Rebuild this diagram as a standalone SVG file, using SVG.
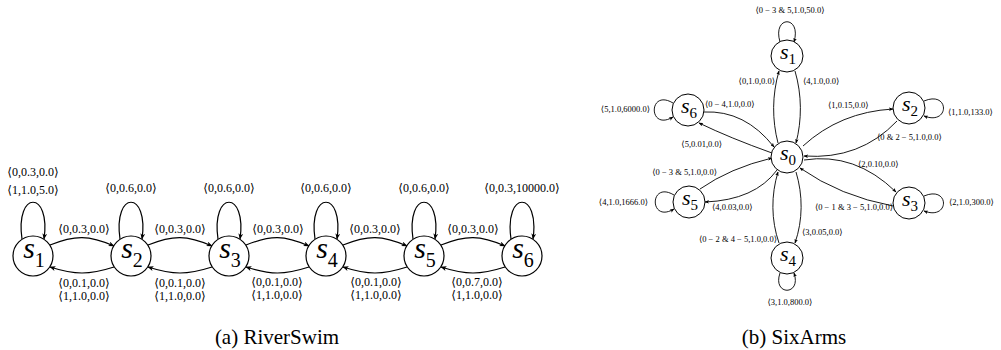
<svg xmlns="http://www.w3.org/2000/svg" width="1001" height="350" viewBox="0 0 1001 350">
<style>
  .bg{fill:#fff}
  .node{fill:#fff;stroke:#000;stroke-width:1.2}
  .snode{fill:#fff;stroke:#000;stroke-width:1}
  .edge{fill:none;stroke:#000;stroke-width:1.2}
  .sedge{fill:none;stroke:#000;stroke-width:0.9}
  .nl{font-size:30px;font-style:italic}
  .snl{font-size:22px;font-style:italic}
  .sub{font-style:normal}
  .lbl{font-size:12px;text-anchor:middle}
  .sl{font-size:8.5px}
  .cap{font-size:21px;text-anchor:middle}
</style>
<defs>
  <marker id="arr" viewBox="0 0 10 8" refX="9" refY="4" markerWidth="6" markerHeight="4.8" markerUnits="userSpaceOnUse" orient="auto">
    <path d="M0,0 L10,4 L0,8 L2.5,4 z" fill="#000"/>
  </marker>
  <marker id="sarr" viewBox="0 0 10 8" refX="9" refY="4" markerWidth="4.5" markerHeight="3.6" markerUnits="userSpaceOnUse" orient="auto">
    <path d="M0,0 L10,4 L0,8 L2.5,4 z" fill="#000"/>
  </marker>
</defs>
<rect class="bg" x="0" y="0" width="1001" height="350"/>

<g font-family="Liberation Serif, Times New Roman, Times, DejaVu Serif, serif" fill="#000">
<g id="connectors">
  <g id="riverswim-edges" marker-end="url(#arr)">
    <path class="edge" d="M 50,245 C 75,235 89,235 114,246"/>
    <path class="edge" d="M 148,245 C 173,235 187,235 212,246"/>
    <path class="edge" d="M 246,245 C 271,235 284,235 309,246"/>
    <path class="edge" d="M 343,245 C 368,235 382,235 407,246"/>
    <path class="edge" d="M 441,245 C 466,235 480,235 505,246"/>
    <path class="edge" d="M 114,267 C 89,275 75,275 50,267"/>
    <path class="edge" d="M 212,267 C 187,275 173,275 148,267"/>
    <path class="edge" d="M 309,267 C 284,275 271,275 246,267"/>
    <path class="edge" d="M 407,267 C 382,275 368,275 343,267"/>
    <path class="edge" d="M 505,267 C 480,275 466,275 441,267"/>
    <path class="edge" d="M 22,239 C 15,190 51,190 44,239"/>
    <path class="edge" d="M 120,239 C 113,190 149,190 142,239"/>
    <path class="edge" d="M 218,239 C 211,190 247,190 240,239"/>
    <path class="edge" d="M 315,239 C 308,190 344,190 337,239"/>
    <path class="edge" d="M 413,239 C 406,190 442,190 435,239"/>
    <path class="edge" d="M 511,239 C 504,190 540,190 533,239"/>
  </g>
  <g id="riverswim-labels">
    <text class="lbl" x="33" y="176">⟨0,0.3,0.0⟩</text>
    <text class="lbl" x="33" y="194">⟨1,1.0,5.0⟩</text>
    <text class="lbl" x="131" y="192">⟨0,0.6,0.0⟩</text>
    <text class="lbl" x="229" y="192">⟨0,0.6,0.0⟩</text>
    <text class="lbl" x="326" y="192">⟨0,0.6,0.0⟩</text>
    <text class="lbl" x="424" y="192">⟨0,0.6,0.0⟩</text>
    <text class="lbl" x="522" y="192">⟨0,0.3,10000.0⟩</text>
    <text class="lbl" x="84" y="233">⟨0,0.3,0.0⟩</text>
    <text class="lbl" x="180" y="233">⟨0,0.3,0.0⟩</text>
    <text class="lbl" x="278" y="233">⟨0,0.3,0.0⟩</text>
    <text class="lbl" x="375" y="233">⟨0,0.3,0.0⟩</text>
    <text class="lbl" x="473" y="233">⟨0,0.3,0.0⟩</text>
    <text class="lbl" x="84" y="287">⟨0,0.1,0.0⟩</text>
    <text class="lbl" x="84" y="300">⟨1,1.0,0.0⟩</text>
    <text class="lbl" x="180" y="287">⟨0,0.1,0.0⟩</text>
    <text class="lbl" x="180" y="300">⟨1,1.0,0.0⟩</text>
    <text class="lbl" x="277" y="286">⟨0,0.1,0.0⟩</text>
    <text class="lbl" x="277" y="299">⟨1,1.0,0.0⟩</text>
    <text class="lbl" x="376" y="286">⟨0,0.1,0.0⟩</text>
    <text class="lbl" x="376" y="299">⟨1,1.0,0.0⟩</text>
    <text class="lbl" x="477" y="286">⟨0,0.7,0.0⟩</text>
    <text class="lbl" x="477" y="299">⟨1,1.0,0.0⟩</text>
  </g>

  <g id="sixarms-edges" marker-end="url(#sarr)">
    <path class="sedge" d="M 778,143 C 772,120 772,95 779,71"/>
    <path class="sedge" d="M 795,71 C 802,95 802,120 796,143"/>
    <path class="sedge" d="M 780,42 C 772,15 802,15 794,42"/>
    <path class="sedge" d="M 803,146 Q 840,112 893,109"/>
    <path class="sedge" d="M 897,121 Q 860,160 804,156"/>
    <path class="sedge" d="M 924,101 C 950,90 950,126 924,116"/>
    <path class="sedge" d="M 804,160 Q 855,152 896,192"/>
    <path class="sedge" d="M 893,206 Q 840,196 800,168"/>
    <path class="sedge" d="M 924,196 C 950,185 950,221 924,211"/>
    <path class="sedge" d="M 796,172 C 803,195 803,220 795,243"/>
    <path class="sedge" d="M 779,243 C 771,220 771,195 778,172"/>
    <path class="sedge" d="M 780,273 C 772,296 802,296 794,273"/>
    <path class="sedge" d="M 700,189 Q 730,168 772,158"/>
    <path class="sedge" d="M 777,170 Q 755,200 705,202"/>
    <path class="sedge" d="M 674,195 C 649,180 649,224 674,209"/>
    <path class="sedge" d="M 704,112 Q 745,110 774,147"/>
    <path class="sedge" d="M 772,153 Q 730,138 699,123"/>
    <path class="sedge" d="M 673,103 C 648,88 648,132 673,117"/>
  </g>
  <g id="sixarms-labels" class="sl">
    <text x="790" y="13" text-anchor="middle">⟨0 − 3 &amp; 5,1.0,50.0⟩</text>
    <text x="775" y="84" text-anchor="end">⟨0,1.0,0.0⟩</text>
    <text x="803" y="84">⟨4,1.0,0.0⟩</text>
    <text x="828" y="108">⟨1,0.15,0.0⟩</text>
    <text x="877" y="140">⟨0 &amp; 2 − 5,1.0,0.0⟩</text>
    <text x="948" y="115">⟨1,1.0,133.0⟩</text>
    <text x="858" y="167">⟨2,0.10,0.0⟩</text>
    <text x="893" y="210" text-anchor="end">⟨0 − 1 &amp; 3 − 5,1.0,0.0⟩</text>
    <text x="949" y="205">⟨2,1.0,300.0⟩</text>
    <text x="802" y="235">⟨3,0.05,0.0⟩</text>
    <text x="777" y="242" text-anchor="end">⟨0 − 2 &amp; 4 − 5,1.0,0.0⟩</text>
    <text x="790" y="305" text-anchor="middle">⟨3,1.0,800.0⟩</text>
    <text x="712" y="210">⟨4,0.03,0.0⟩</text>
    <text x="717" y="175" text-anchor="end">⟨0 − 3 &amp; 5,1.0,0.0⟩</text>
    <text x="648" y="205" text-anchor="end">⟨4,1.0,1666.0⟩</text>
    <text x="722" y="147" text-anchor="end">⟨5,0.01,0.0⟩</text>
    <text x="705" y="107">⟨0 − 4,1.0,0.0⟩</text>
    <text x="650" y="112" text-anchor="end">⟨5,1.0,6000.0⟩</text>
  </g>
</g>

<g id="rs-s1"><circle class="node" cx="33" cy="256" r="20"/><text class="nl" x="34" y="258" text-anchor="middle">s<tspan class="sub" font-size="20" dy="9">1</tspan></text></g>
<g id="rs-s2"><circle class="node" cx="131" cy="256" r="20"/><text class="nl" x="132" y="258" text-anchor="middle">s<tspan class="sub" font-size="20" dy="9">2</tspan></text></g>
<g id="rs-s3"><circle class="node" cx="229" cy="256" r="20"/><text class="nl" x="230" y="258" text-anchor="middle">s<tspan class="sub" font-size="20" dy="9">3</tspan></text></g>
<g id="rs-s4"><circle class="node" cx="326" cy="256" r="20"/><text class="nl" x="327" y="258" text-anchor="middle">s<tspan class="sub" font-size="20" dy="9">4</tspan></text></g>
<g id="rs-s5"><circle class="node" cx="424" cy="256" r="20"/><text class="nl" x="425" y="258" text-anchor="middle">s<tspan class="sub" font-size="20" dy="9">5</tspan></text></g>
<g id="rs-s6"><circle class="node" cx="522" cy="256" r="20"/><text class="nl" x="523" y="258" text-anchor="middle">s<tspan class="sub" font-size="20" dy="9">6</tspan></text></g>

<g id="sa-s0"><circle class="snode" cx="787" cy="157" r="16"/><text class="snl" x="788" y="160" text-anchor="middle">s<tspan class="sub" font-size="15" dy="5">0</tspan></text></g>
<g id="sa-s1"><circle class="snode" cx="787" cy="56" r="16"/><text class="snl" x="788" y="59" text-anchor="middle">s<tspan class="sub" font-size="15" dy="5">1</tspan></text></g>
<g id="sa-s2"><circle class="snode" cx="909" cy="108" r="16"/><text class="snl" x="910" y="111" text-anchor="middle">s<tspan class="sub" font-size="15" dy="5">2</tspan></text></g>
<g id="sa-s3"><circle class="snode" cx="909" cy="203" r="16"/><text class="snl" x="910" y="206" text-anchor="middle">s<tspan class="sub" font-size="15" dy="5">3</tspan></text></g>
<g id="sa-s4"><circle class="snode" cx="787" cy="258" r="16"/><text class="snl" x="788" y="261" text-anchor="middle">s<tspan class="sub" font-size="15" dy="5">4</tspan></text></g>
<g id="sa-s5"><circle class="snode" cx="689" cy="202" r="16"/><text class="snl" x="690" y="205" text-anchor="middle">s<tspan class="sub" font-size="15" dy="5">5</tspan></text></g>
<g id="sa-s6"><circle class="snode" cx="688" cy="110" r="16"/><text class="snl" x="689" y="113" text-anchor="middle">s<tspan class="sub" font-size="15" dy="5">6</tspan></text></g>

<g id="captions">
  <text class="cap" x="277" y="344">(a) RiverSwim</text>
  <text class="cap" x="794" y="344">(b) SixArms</text>
</g>
</g>
</svg>
